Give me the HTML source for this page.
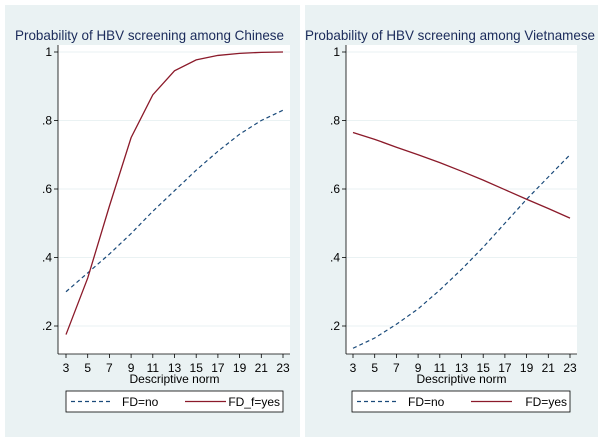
<!DOCTYPE html>
<html><head><meta charset="utf-8"><style>
body{margin:0;background:#fff;}
svg{display:block;font-family:"Liberation Sans",Arial,sans-serif;}
</style></head><body>
<svg id="c" width="604" height="442"></svg>
<script>
const xTicks=[3,5,7,9,11,13,15,17,19,21,23];
const yTicks=[0.2,0.4,0.6,0.8,1];
const yTickLabels=[".2",".4",".6",".8","1"];
const chNo=[0.30,0.355,0.41,0.47,0.535,0.595,0.655,0.71,0.76,0.80,0.83];
const chYes=[0.175,0.34,0.55,0.75,0.875,0.945,0.977,0.99,0.996,0.999,1.0];
const viNo=[0.135,0.165,0.205,0.25,0.305,0.365,0.43,0.50,0.57,0.635,0.70];
const viYes=[0.765,0.745,0.722,0.70,0.677,0.652,0.626,0.598,0.57,0.543,0.515];
const panels=[
 {title:"Probability of HBV screening among Chinese",bx:5,bw:295,ax:58,pr:290,x0:66,x1:283,lx0:66,lx1:283,no:chNo,yes:chYes,yesLab:"FD_f=yes",t0:15,tw:269,name:"chinese"},
 {title:"Probability of HBV screening among Vietnamese",bx:305,bw:293,ax:346,pr:577,x0:353,x1:570,lx0:352,lx1:570,no:viNo,yes:viYes,yesLab:"FD=yes",t0:305,tw:290,name:"vietnamese"}
];
const svg=document.getElementById('c');
const NS="http://www.w3.org/2000/svg";
function mk(t,a,p){const e=document.createElementNS(NS,t);for(const k in a)e.setAttribute(k,a[k]);(p||svg).appendChild(e);return e;}
const yTop=45,yBot=354;
function Y(v){return 52+(1-v)*(326-52)/0.8;}
panels.forEach(p=>{
 const X=v=>p.x0+(v-3)*(p.x1-p.x0)/20;
 const g=mk('g',{});
 
 
 const bg=mk('rect',{x:p.bx,y:5,width:p.bw,height:432,fill:'#eaf2f3'},g);
 
 const pl=mk('rect',{x:p.ax,y:yTop,width:p.pr-p.ax,height:yBot-yTop,fill:'#fff'},g);
 
 const t=mk('text',{x:p.t0,y:40,'font-size':'14','textLength':p.tw,'lengthAdjust':'spacingAndGlyphs',fill:'#1a2a5a'},g);t.textContent=p.title;
 
 yTicks.forEach((v,i)=>{
  const gl=mk('line',{x1:p.ax,x2:p.pr,y1:Y(v),y2:Y(v),stroke:'#eaf2f3','stroke-width':1},g);
  
  mk('line',{x1:p.ax-4,x2:p.ax,y1:Y(v),y2:Y(v),stroke:'#000','stroke-width':0.8},g);
  const l=mk('text',{x:p.ax-6,y:Y(v)+4,'font-size':'12','text-anchor':'end',fill:'#000'},g);l.textContent=yTickLabels[i];
  
 });
 xTicks.forEach(v=>{
  mk('line',{x1:X(v),x2:X(v),y1:yBot,y2:yBot+4,stroke:'#000','stroke-width':0.8},g);
  const l=mk('text',{x:X(v),y:372,'font-size':'12','text-anchor':'middle',fill:'#000'},g);l.textContent=v;
  
 });
 mk('line',{x1:p.ax,x2:p.ax,y1:yTop,y2:yBot,stroke:'#000','stroke-width':0.8},g);
 mk('line',{x1:p.ax,x2:p.pr,y1:yBot,y2:yBot,stroke:'#000','stroke-width':0.8},g);
 const xt=mk('text',{x:(p.x0+p.x1)/2,y:383,'font-size':'12','text-anchor':'middle',fill:'#000'},g);xt.textContent="Descriptive norm";
 
 const pts=a=>a.map((v,i)=>X(xTicks[i])+','+Y(v)).join(' ');
 const l1=mk('polyline',{points:pts(p.no),fill:'none',stroke:'#1a4a7a','stroke-width':1.2,'stroke-dasharray':'4,3'},g);
 
 const l2=mk('polyline',{points:pts(p.yes),fill:'none',stroke:'#8b1a2a','stroke-width':1.3},g);
 
 const lg=mk('g',{},g);
 mk('rect',{x:p.lx0,y:391,width:p.lx1-p.lx0,height:21,fill:'#fff',stroke:'#000','stroke-width':0.8},lg);
 mk('line',{x1:p.lx0+5,x2:p.lx0+46,y1:401.5,y2:401.5,stroke:'#1a4a7a','stroke-width':1.2,'stroke-dasharray':'4,3'},lg);
 const a=mk('text',{x:p.lx0+56,y:406,'font-size':'12',fill:'#000'},lg);a.textContent="FD=no";
 
 mk('line',{x1:p.lx0+119,x2:p.lx0+160,y1:401.5,y2:401.5,stroke:'#8b1a2a','stroke-width':1.3},lg);
 const b=mk('text',{x:p.lx1-3,y:406,'font-size':'12','text-anchor':'end',fill:'#000'},lg);b.textContent=p.yesLab;
 
});
</script>
</body></html>
